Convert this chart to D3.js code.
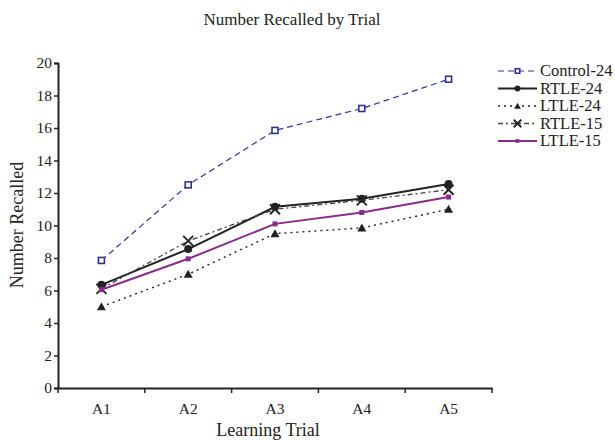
<!DOCTYPE html>
<html>
<head>
<meta charset="utf-8">
<script src="https://cdn.jsdelivr.net/npm/d3@7"></script>
<style>
  html, body { margin: 0; padding: 0; background: #fff; }
  svg { display: block; }
  text { font-family: "Liberation Serif", "Times New Roman", serif; fill: #222; }
</style>
</head>
<body>
<svg id="chart" width="615" height="441"></svg>
<script>
const trials = ["A1", "A2", "A3", "A4", "A5"];
const yTicks = [0, 2, 4, 6, 8, 10, 12, 14, 16, 18, 20];
const control24 = [7.85, 12.5, 15.85, 17.2, 19.0];
const rtle24 = [6.35, 8.55, 11.15, 11.65, 12.55];
const ltle24 = [5.0, 7.0, 9.5, 9.85, 11.0];
const rtle15 = [6.1, 9.05, 11.0, 11.55, 12.2];
const ltle15 = [6.05, 7.95, 10.1, 10.8, 11.75];
const seriesNames = ["Control-24", "RTLE-24", "LTLE-24", "RTLE-15", "LTLE-15"];

const series = [
  { name: seriesNames[0], values: control24, color: "#2f3290", dash: "6,4", width: 1.2, marker: "openSquare" },
  { name: seriesNames[1], values: rtle24, color: "#222222", dash: null, width: 2, marker: "circle" },
  { name: seriesNames[2], values: ltle24, color: "#222222", dash: "2,4", width: 1.4, marker: "triangle" },
  { name: seriesNames[3], values: rtle15, color: "#444444", dash: "5,3,2,3", width: 1.3, marker: "cross" },
  { name: seriesNames[4], values: ltle15, color: "#8a2c8c", dash: null, width: 2, marker: "smallSquare" }
];

const svg = d3.select("#chart");
const mLeft = 58, mRight = 492, mTop = 63, mBottom = 388;

const x = d3.scaleBand().domain(trials).range([mLeft, mRight]);
const y = d3.scaleLinear().domain([0, 20]).range([mBottom, mTop]);
const cx = d => x(d) + x.bandwidth() / 2;

svg.append("text").attr("x", 292).attr("y", 25).attr("text-anchor", "middle")
  .attr("font-size", 17).text("Number Recalled by Trial");

const yAxis = d3.axisLeft(y).tickValues(yTicks).tickSize(4).tickPadding(2);
const gy = svg.append("g").attr("transform", `translate(${mLeft},0)`).call(yAxis);
gy.select(".domain").attr("stroke", "#222").attr("stroke-width", 2);
gy.selectAll(".tick line").attr("stroke", "#222").attr("stroke-width", 1.5);
gy.selectAll(".tick text").attr("font-size", 15.5).attr("font-family", "Liberation Serif, serif").attr("fill", "#222");

const xAxis = d3.axisBottom(x).tickSize(0).tickPadding(15);
const gx = svg.append("g").attr("transform", `translate(0,${mBottom})`).call(xAxis);
gx.select(".domain").attr("stroke", "#222").attr("stroke-width", 2);
gx.selectAll(".tick text").attr("font-size", 15.5).attr("font-family", "Liberation Serif, serif").attr("fill", "#222");
const edges = trials.map(t => x(t)).concat([x(trials[trials.length - 1]) + x.bandwidth()]);
gx.selectAll(".edge").data(edges).enter().append("line")
  .attr("x1", d => d).attr("x2", d => d).attr("y1", 0).attr("y2", 5)
  .attr("stroke", "#222").attr("stroke-width", 1.5);

svg.append("text").attr("transform", "translate(23,225) rotate(-90)")
  .attr("text-anchor", "middle").attr("font-size", 18).text("Number Recalled");
svg.append("text").attr("x", 268).attr("y", 436).attr("text-anchor", "middle")
  .attr("font-size", 18).text("Learning Trial");

function drawMarker(g, type, color, px, py, scale) {
  const s = scale || 1;
  if (type === "openSquare") {
    g.append("rect").attr("x", px - 3 * s).attr("y", py - 3 * s).attr("width", 6 * s).attr("height", 6 * s)
      .attr("fill", "#fff").attr("stroke", color).attr("stroke-width", 1.6);
  } else if (type === "circle") {
    g.append("circle").attr("cx", px).attr("cy", py).attr("r", 4 * s).attr("fill", color);
  } else if (type === "triangle") {
    const h = 4.5 * s;
    g.append("path").attr("d", `M${px},${py - h}L${px + h},${py + h * 0.8}L${px - h},${py + h * 0.8}Z`).attr("fill", color);
  } else if (type === "cross") {
    const h = 5 * s;
    g.append("path").attr("d", `M${px - h},${py - h}L${px + h},${py + h}M${px + h},${py - h}L${px - h},${py + h}`)
      .attr("stroke", "#222").attr("stroke-width", 1.8);
  } else if (type === "smallSquare") {
    g.append("rect").attr("x", px - 2.5 * s).attr("y", py - 2.5 * s).attr("width", 5 * s).attr("height", 5 * s)
      .attr("fill", color);
  }
}

const line = d3.line().x((d, i) => cx(trials[i])).y(d => y(d));

series.forEach(s => {
  const g = svg.append("g");
  g.append("path").attr("d", line(s.values)).attr("fill", "none")
    .attr("stroke", s.color).attr("stroke-width", s.width)
    .attr("stroke-dasharray", s.dash);
  s.values.forEach((v, i) => drawMarker(g, s.marker, s.color, cx(trials[i]), y(v), 1));
});

const lg = svg.append("g");
series.forEach((s, i) => {
  const ly = 71 + i * 17.5;
  lg.append("line").attr("x1", 498).attr("x2", 537).attr("y1", ly).attr("y2", ly)
    .attr("stroke", s.color).attr("stroke-width", s.width).attr("stroke-dasharray", s.dash);
  drawMarker(lg, s.marker, s.color, 517.5, ly, 0.75);
  lg.append("text").attr("x", 540).attr("y", ly + 5).attr("font-size", 16.5).text(s.name);
});
</script>
</body>
</html>
